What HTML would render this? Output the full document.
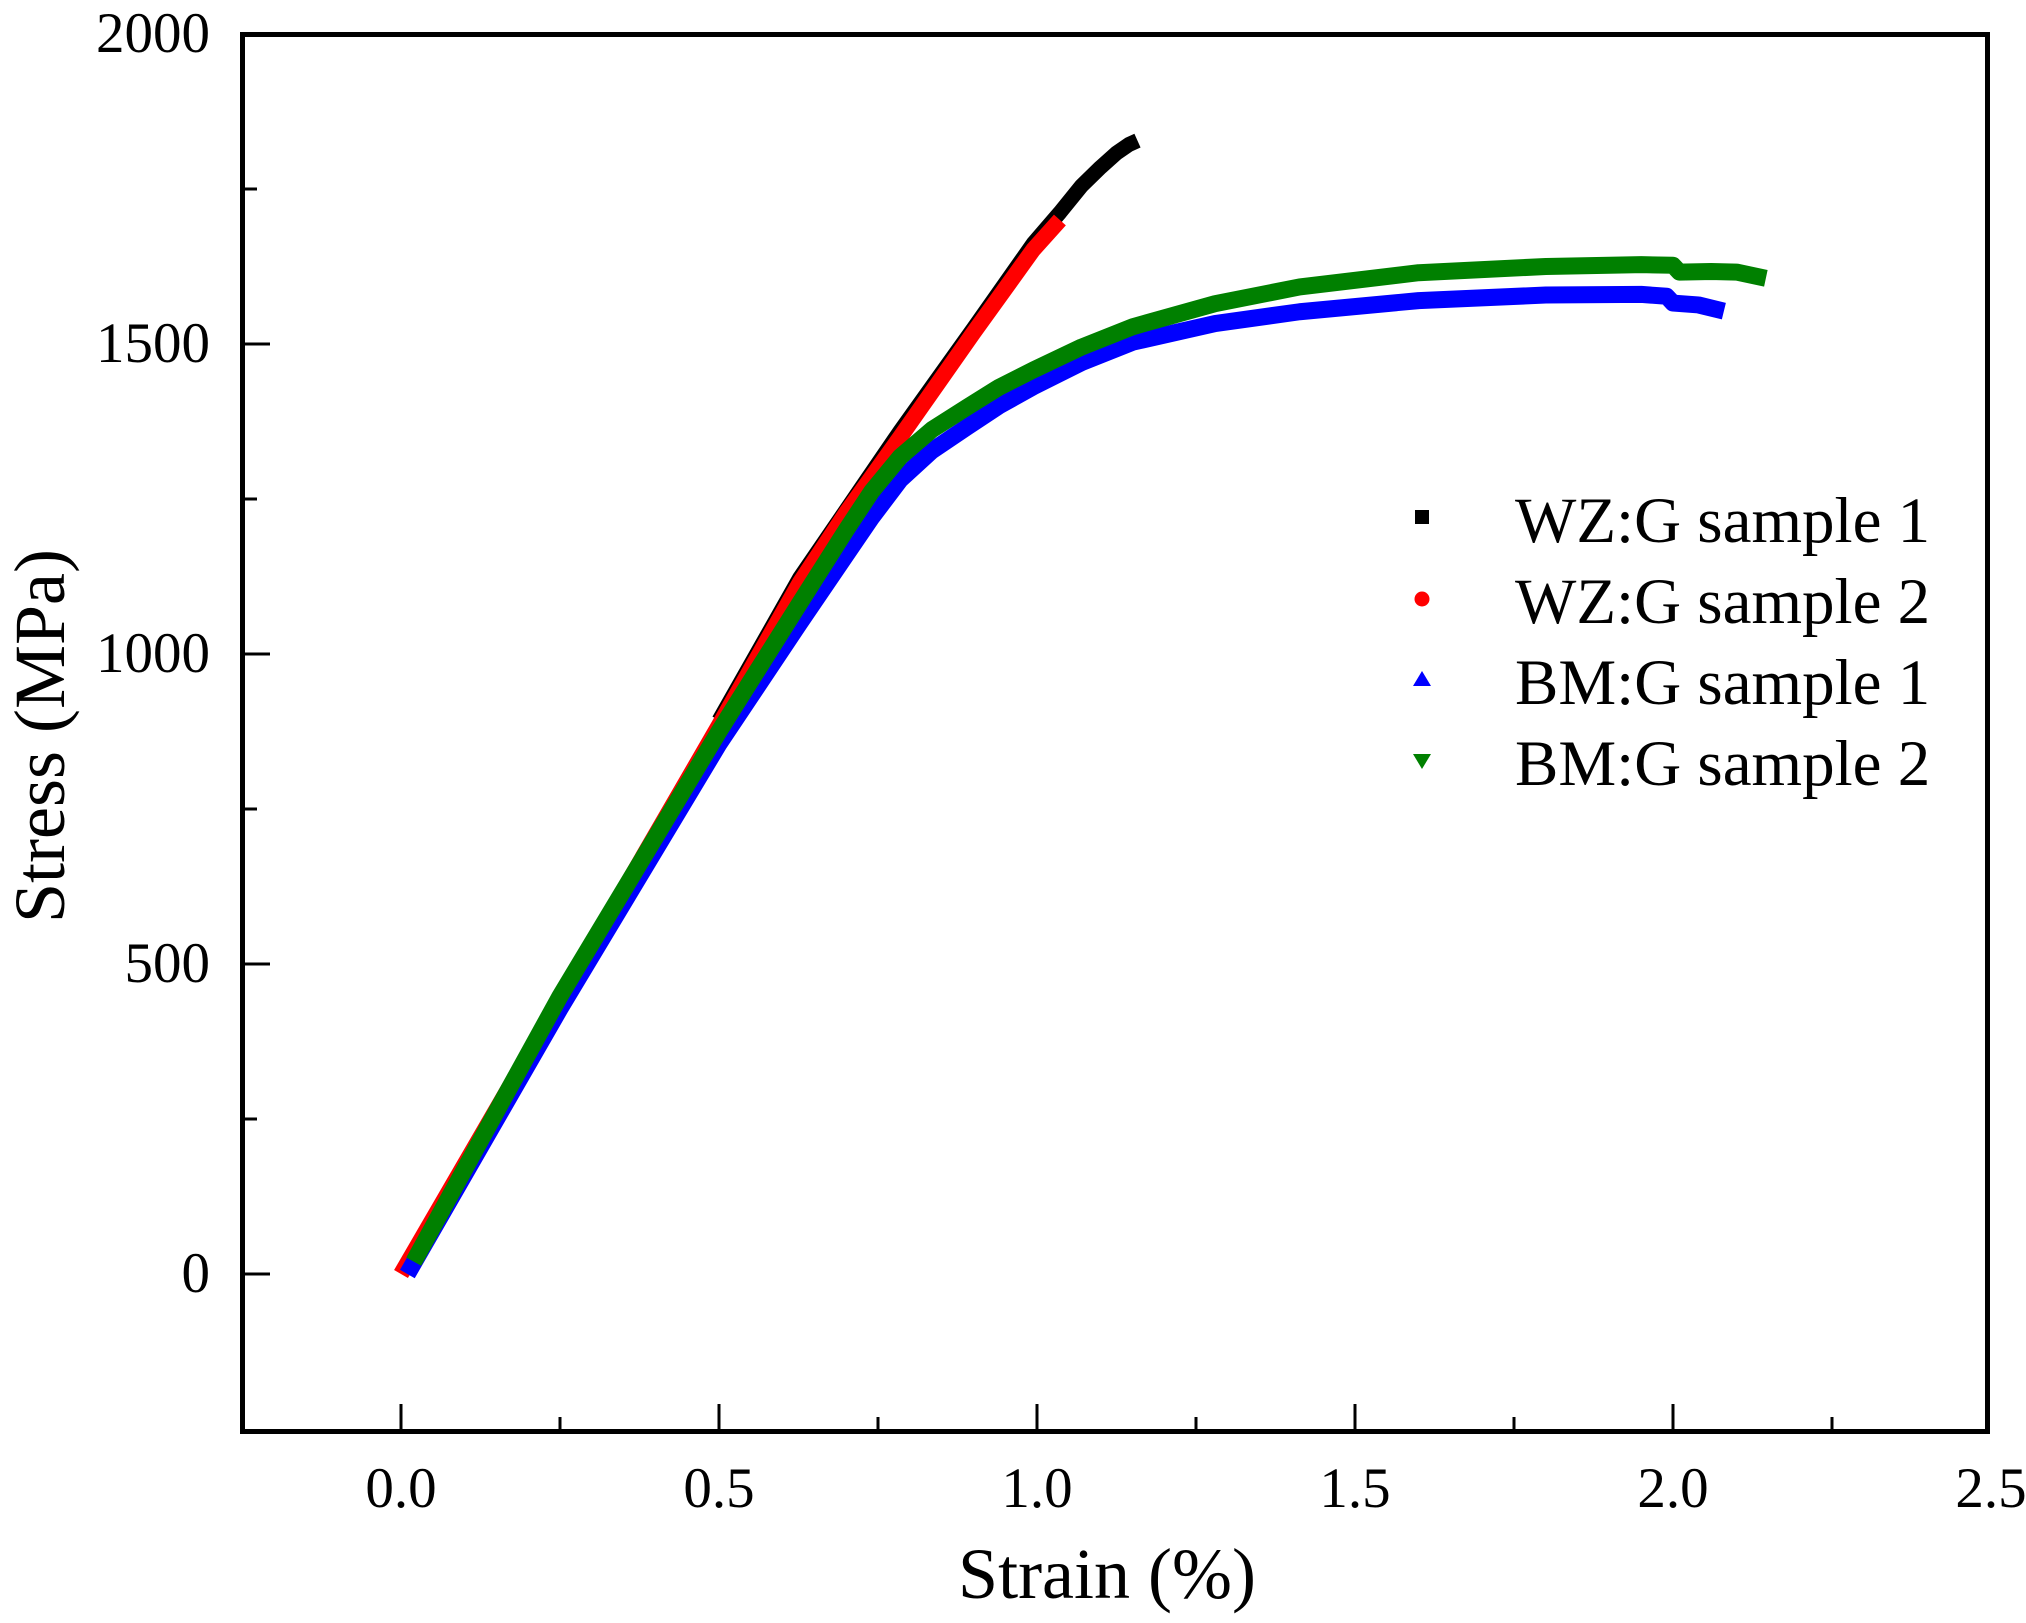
<!DOCTYPE html>
<html><head><meta charset="utf-8"><style>
html,body{margin:0;padding:0;background:#fff;}
svg{display:block;}
text{font-family:"Liberation Serif",serif;fill:#000;}
</style></head><body>
<svg width="2026" height="1623" viewBox="0 0 2026 1623" xmlns="http://www.w3.org/2000/svg">
<g transform="matrix(636,0,0,-0.62,401,1274)" fill="none" stroke-linejoin="round" stroke-linecap="butt">
  <polyline vector-effect="non-scaling-stroke" stroke="#000000" stroke-width="15" points="0.5,893 0.627,1123 0.785,1360 0.9,1525 0.994,1662 1.036,1712 1.07,1755 1.1,1785 1.125,1808 1.145,1822 1.158,1828"/>
  <polyline vector-effect="non-scaling-stroke" stroke="#ff0000" stroke-width="16" points="0,0 0.25,442 0.5,885 0.627,1115 0.7,1228 0.785,1350 0.9,1518 0.994,1652 1.036,1700"/>
  <polyline vector-effect="non-scaling-stroke" stroke="#0000ff" stroke-width="17" points="0.01,0 0.25,428 0.5,855 0.627,1050 0.7,1160 0.74,1220 0.785,1281 0.835,1328 0.89,1366 0.94,1400 0.994,1431 1.07,1470 1.151,1503 1.28,1533 1.413,1552 1.6,1570 1.8,1579 1.95,1580 1.99,1577 2.0,1566 2.04,1563 2.08,1553"/>
  <polyline vector-effect="non-scaling-stroke" stroke="#008000" stroke-width="17" points="0.02,20 0.25,448 0.5,875 0.627,1082 0.7,1200 0.74,1262 0.785,1318 0.835,1362 0.89,1398 0.94,1430 0.994,1458 1.07,1495 1.151,1528 1.28,1565 1.413,1592 1.6,1615 1.8,1625 1.95,1628 2.0,1627 2.01,1616 2.06,1617 2.1,1616 2.146,1606"/>
</g>
<rect x="242.5" y="34.5" width="1745" height="1397" fill="none" stroke="#000" stroke-width="5"/>
<g stroke="#000" stroke-width="3">
  <line x1="401" y1="1431" x2="401" y2="1404"/>
  <line x1="719" y1="1431" x2="719" y2="1404"/>
  <line x1="1037" y1="1431" x2="1037" y2="1404"/>
  <line x1="1355" y1="1431" x2="1355" y2="1404"/>
  <line x1="1673" y1="1431" x2="1673" y2="1404"/>
  <line x1="560" y1="1431" x2="560" y2="1417"/>
  <line x1="878" y1="1431" x2="878" y2="1417"/>
  <line x1="1196" y1="1431" x2="1196" y2="1417"/>
  <line x1="1514" y1="1431" x2="1514" y2="1417"/>
  <line x1="1832" y1="1431" x2="1832" y2="1417"/>
  <line x1="244" y1="1274" x2="270" y2="1274"/>
  <line x1="244" y1="964" x2="270" y2="964"/>
  <line x1="244" y1="654" x2="270" y2="654"/>
  <line x1="244" y1="344" x2="270" y2="344"/>
  <line x1="244" y1="1119" x2="257" y2="1119"/>
  <line x1="244" y1="809" x2="257" y2="809"/>
  <line x1="244" y1="499" x2="257" y2="499"/>
  <line x1="244" y1="189" x2="257" y2="189"/>
</g>
<g font-size="57" text-anchor="end">
  <text x="210" y="52">2000</text>
  <text x="210" y="362">1500</text>
  <text x="210" y="672">1000</text>
  <text x="210" y="982">500</text>
  <text x="210" y="1292">0</text>
</g>
<g font-size="57" text-anchor="middle">
  <text x="401" y="1507">0.0</text>
  <text x="719" y="1507">0.5</text>
  <text x="1037" y="1507">1.0</text>
  <text x="1355" y="1507">1.5</text>
  <text x="1673" y="1507">2.0</text>
  <text x="1991" y="1507">2.5</text>
</g>
<text x="1107" y="1598" font-size="72" text-anchor="middle">Strain (%)</text>
<text transform="translate(64,736) rotate(-90)" font-size="72" text-anchor="middle">Stress (MPa)</text>
<rect x="1415" y="510" width="14" height="14" fill="#000"/>
<circle cx="1422" cy="599" r="7.5" fill="#ff0000"/>
<polygon points="1413,686 1431,686 1422,671" fill="#0000ff"/>
<polygon points="1413,754 1431,754 1422,769" fill="#008000"/>
<g font-size="65">
  <text x="1515" y="542">WZ:G sample 1</text>
  <text x="1515" y="623">WZ:G sample 2</text>
  <text x="1515" y="704">BM:G sample 1</text>
  <text x="1515" y="785">BM:G sample 2</text>
</g>
</svg>
</body></html>
